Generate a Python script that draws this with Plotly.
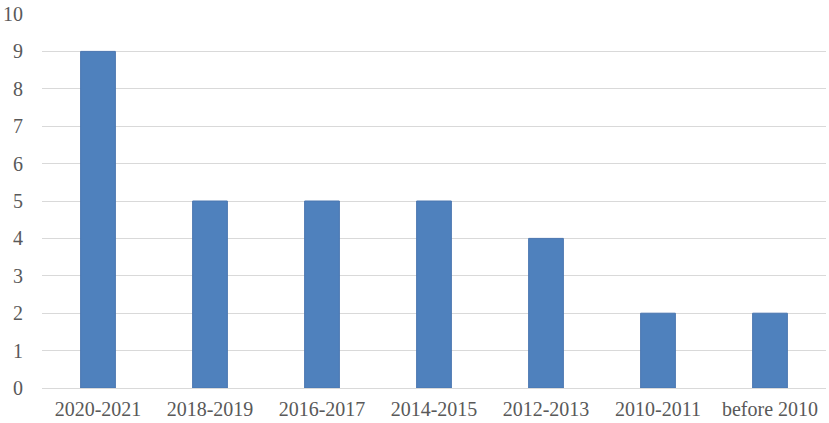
import plotly.graph_objects as go

categories = ["2020-2021", "2018-2019", "2016-2017", "2014-2015", "2012-2013", "2010-2011", "before 2010"]
values = [9, 5, 5, 5, 4, 2, 2]
y_ticks = list(range(0, 11))

fig = go.Figure(go.Bar(
    x=categories, y=values,
    marker=dict(color="#4F81BD", line=dict(color="#4A76B0", width=1)),
))
font = dict(family="Liberation Serif, Times New Roman, serif", size=20, color="#595959")
fig.update_layout(
    width=829, height=423,
    margin=dict(l=40, r=3, t=11, b=35),
    plot_bgcolor="white", paper_bgcolor="white",
    bargap=0.69, showlegend=False, font=font,
)
fig.update_xaxes(showgrid=False, showline=False, ticks="", tickfont=font, ticklabelstandoff=7)
fig.update_yaxes(range=[0, 10], tickvals=y_ticks, showgrid=True, gridcolor="#D9D9D9", gridwidth=1,
                 zeroline=True, zerolinecolor="#D9D9D9", zerolinewidth=1, ticks="", tickfont=font,
                 ticklabelstandoff=18)
fig.write_html("out.html", config={"displayModeBar": False},
               post_script="document.body.style.margin='0';")
